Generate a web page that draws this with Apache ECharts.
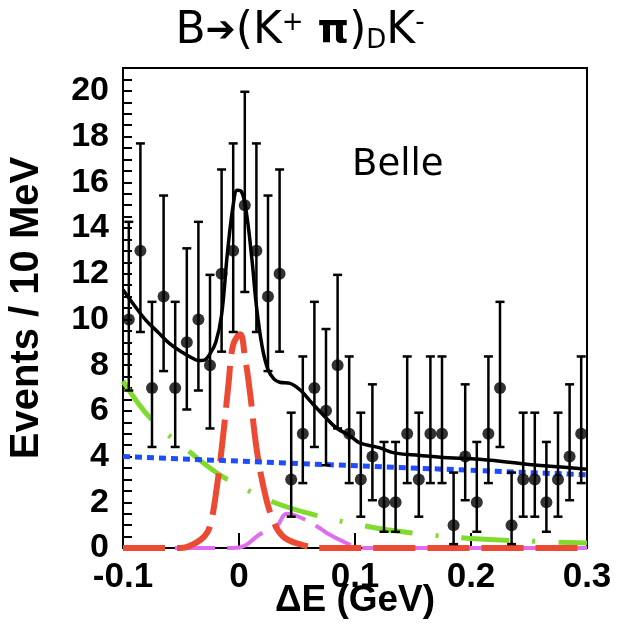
<!DOCTYPE html>
<html>
<head>
<meta charset="utf-8">
<script src="https://cdn.jsdelivr.net/npm/echarts@6/dist/echarts.min.js"></script>
<style>
html,body{margin:0;padding:0;background:#fff;}
#chart{width:617px;height:637px;}
</style>
</head>
<body>
<div id="chart"></div>
<script>
// ---- data ----
const binCenters = [-0.095,-0.085,-0.075,-0.065,-0.055,-0.045,-0.035,-0.025,-0.015,-0.005,
  0.005,0.015,0.025,0.035,0.045,0.055,0.065,0.075,0.085,0.095,
  0.105,0.115,0.125,0.135,0.145,0.155,0.165,0.175,0.185,0.195,
  0.205,0.215,0.225,0.235,0.245,0.255,0.265,0.275,0.285,0.295];
const counts = [10,13,7,11,7,9,10,8,12,13,
  15,13,11,12,3,5,7,6,8,5,
  3,4,2,2,5,3,5,5,1,4,
  2,5,7,1,3,3,2,3,4,5];
const barLow = [6.89,9.45,4.42,7.74,4.42,6.06,6.89,5.23,8.59,9.45,
  11.2,9.45,7.74,8.59,1.37,2.84,4.42,3.62,5.23,2.84,
  1.37,2.09,0.71,0.71,2.84,1.37,2.84,2.84,0.17,2.09,
  0.71,2.84,4.42,0.17,1.37,1.37,0.71,1.37,2.09,2.84];
const barHigh = [14.27,17.70,10.77,15.42,10.77,13.11,14.27,11.95,16.56,17.70,
  19.96,17.70,15.42,16.56,5.92,8.38,10.77,9.58,11.95,8.38,
  5.92,7.16,4.64,4.64,8.38,5.92,8.38,8.38,3.30,7.16,
  4.64,8.38,10.77,3.30,5.92,5.92,4.64,5.92,7.16,8.38];

// fit curves (x in GeV, y in events/10 MeV)
const totalFit = [[-0.1,11.3],[-0.09,10.6],[-0.08,9.95],[-0.07,9.45],[-0.06,8.95],[-0.05,8.6],
  [-0.04,8.3],[-0.035,8.2],[-0.03,8.22],[-0.025,8.5],[-0.02,9.0],[-0.015,10.2],[-0.01,12.9],
  [-0.005,15.0],[-0.0015,15.65],[0.002,15.6],[0.006,14.8],[0.011,12.7],[0.015,10.6],[0.02,8.8],
  [0.025,7.8],[0.03,7.4],[0.035,7.25],[0.044,7.2],[0.053,6.9],[0.061,6.45],[0.073,5.8],
  [0.084,5.25],[0.096,4.9],[0.104,4.6],[0.12,4.4],[0.135,4.15],[0.156,4.05],[0.18,3.95],
  [0.2,3.9],[0.225,3.8],[0.25,3.65],[0.275,3.55],[0.3,3.45]];
const signalFit = [[-0.1,0],[-0.05,0],[-0.04,0.15],[-0.03,0.5],[-0.025,0.95],[-0.019,2.7],
  [-0.0135,5.0],[-0.009,7.2],[-0.005,8.9],[0.001,9.35],[0.005,8.4],[0.0095,6.8],[0.015,4.4],
  [0.021,2.7],[0.028,1.4],[0.038,0.5],[0.055,0.13],[0.07,0],[0.3,0]];
const peakingFit = [[-0.1,0],[-0.005,0],[0.005,0.1],[0.018,0.6],[0.0325,0.95],[0.041,1.5],
  [0.05,1.4],[0.067,0.95],[0.076,0.65],[0.09,0.28],[0.1,0.08],[0.11,0],[0.3,0]];
const qqbarFit = [[-0.1,7.3],[-0.075,5.6],[-0.04,4.1],[-0.025,3.5],[-0.01,3.0],[0.03,2.0],
  [0.065,1.45],[0.11,0.95],[0.15,0.65],[0.2,0.42],[0.25,0.3],[0.3,0.22]];
const combFit = [[-0.1,4.0],[0.3,3.2]];

const xTicks = [-0.1, 0, 0.1, 0.2, 0.3];
const yTickLabels = [0,2,4,6,8,10,12,14,16,18,20];

// ---- chart ----
const chart = echarts.init(document.getElementById('chart'), null, {renderer:'canvas'});
const pts = binCenters.map((x,i)=>[x,counts[i]]);
const errs = binCenters.map((x,i)=>[x,barLow[i],barHigh[i]]);
const boldFont = '"Liberation Sans", Arial, Helvetica, sans-serif';

const option = {
  animation:false,
  backgroundColor:'#fff',
  grid:{left:123, right:30, top:68, bottom:89, show:true, borderColor:'#000', borderWidth:2, backgroundColor:'transparent'},
  xAxis:{
    type:'value', min:-0.1, max:0.3, interval:0.1,
    axisLine:{show:true, onZero:false, lineStyle:{color:'#000', width:2}},
    axisTick:{show:true, inside:true, length:15, lineStyle:{color:'#000', width:2}},
    splitLine:{show:false},
    axisLabel:{color:'#000', fontFamily:boldFont, fontWeight:'bold', fontSize:35, margin:12,
      formatter:v=>{const r=Math.round(v*10)/10; return xTicks.indexOf(r)>=0 ? String(r===0?0:r) : '';}}
  },
  yAxis:{
    type:'value', min:0, max:21, interval:0.5,
    axisLine:{show:true, onZero:false, lineStyle:{color:'#000', width:2}},
    axisTick:{show:true, inside:true, length:9, lineStyle:{color:'#000', width:2}},
    splitLine:{show:false},
    axisLabel:{color:'#000', fontFamily:boldFont, fontWeight:'bold', fontSize:34, margin:14, showMaxLabel:false,
      formatter:v=>{const r=Math.round(v*2)/2; return yTickLabels.indexOf(r)>=0 ? String(r) : '';}}
  },
  graphic:[
    {type:'text', x:27, y:308, rotation:Math.PI/2,
      style:{text:'Events / 10 MeV', fill:'#000', font:'bold 40px '+boldFont, align:'center', verticalAlign:'middle'}},
    {type:'text', x:355, y:601,
      style:{text:'\u0394E (GeV)', fill:'#000', font:'bold 37px '+boldFont, align:'center', verticalAlign:'middle'}},
    {type:'text', x:352, y:165,
      style:{text:'Belle', fill:'#000', font:'normal 37px "DejaVu Sans", sans-serif', align:'left', verticalAlign:'middle'}},
    {type:'text', x:300, y:32,
      style:{
        text:'{b|B}{a|\u2794}{b|(K}{sup|+}{b| }{pi|\u03c0}{b|)}{sub|D}{b|K}{sup|-}',
        align:'center', verticalAlign:'middle', fill:'#000',
        rich:{
          b:{font:'normal 44px "DejaVu Sans", sans-serif', fill:'#000', verticalAlign:'middle'},
          a:{font:'bold 36px "DejaVu Sans", sans-serif', fill:'#000', verticalAlign:'middle'},
          pi:{font:'bold 40px "DejaVu Sans", sans-serif', fill:'#000', verticalAlign:'middle'},
          sup:{font:'normal 26px "DejaVu Sans", sans-serif', fill:'#000', verticalAlign:'top', padding:[0,0,18,0]},
          sub:{font:'normal 26px "DejaVu Sans", sans-serif', fill:'#000', verticalAlign:'bottom', padding:[18,0,0,0]}
        }
      }}
  ],
  series:[
    {type:'line', data:qqbarFit, smooth:0.4, showSymbol:false, z:2,
      lineStyle:{color:'#7fdc2e', width:5, type:[48,23,3,23]}},
    {type:'line', data:peakingFit, smooth:0.4, showSymbol:false, z:2,
      lineStyle:{color:'#e26cf0', width:4, type:[40,12]}},
    {type:'line', data:signalFit, smooth:0.4, showSymbol:false, z:3,
      lineStyle:{color:'#ec4a32', width:6, type:[42,12]}},
    {type:'line', data:combFit, showSymbol:false, z:3,
      lineStyle:{color:'#1e4cff', width:5, type:[7,5]}},
    {type:'line', data:totalFit, smooth:0.4, showSymbol:false, z:4,
      lineStyle:{color:'#000', width:3.5}},
    {type:'custom', data:errs, z:5,
      renderItem:(params, api)=>{
        const x = api.value(0);
        const lo = api.coord([x, api.value(1)]);
        const hi = api.coord([x, api.value(2)]);
        const w = 4.5;
        return {type:'group', children:[
          {type:'line', shape:{x1:lo[0], y1:lo[1], x2:hi[0], y2:hi[1]}, style:{stroke:'#000', lineWidth:2.5}},
          {type:'line', shape:{x1:hi[0]-w, y1:hi[1], x2:hi[0]+w, y2:hi[1]}, style:{stroke:'#000', lineWidth:2.5}},
          {type:'line', shape:{x1:lo[0]-w, y1:lo[1], x2:lo[0]+w, y2:lo[1]}, style:{stroke:'#000', lineWidth:2.5}}
        ]};
      }},
    {type:'scatter', data:pts, symbol:'circle', symbolSize:12, z:6,
      itemStyle:{color:'#000'}}
  ]
};
chart.setOption(option);
</script>
</body>
</html>
